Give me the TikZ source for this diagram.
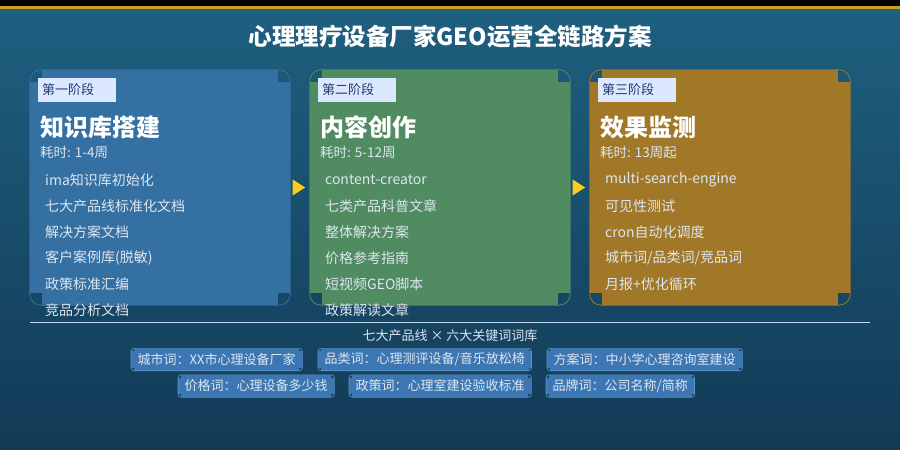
\documentclass[tikz,border=0pt]{standalone}
\usepackage{fontspec}
\setmainfont{Noto Sans CJK SC}
\usetikzlibrary{calc}
\definecolor{bgtop}{RGB}{31,96,128}
\definecolor{bgbot}{RGB}{18,58,86}
\definecolor{ybar}{RGB}{255,208,42}
\definecolor{ybardk}{RGB}{201,160,32}
\definecolor{cardA}{RGB}{52,112,162}
\definecolor{cardB}{RGB}{81,139,98}
\definecolor{cardC}{RGB}{160,120,40}
\definecolor{ctop}{RGB}{28,88,120}
\definecolor{cbot}{RGB}{22,72,102}
\definecolor{tagbg}{RGB}{220,232,255}
\definecolor{tagtxt}{RGB}{31,59,115}
\definecolor{itemtxt}{RGB}{222,230,240}
\definecolor{arrowy}{RGB}{250,205,30}
\definecolor{kwfill}{RGB}{60,119,179}
\definecolor{kwedge}{RGB}{95,150,205}
\definecolor{kwcorner}{RGB}{20,66,95}
\definecolor{linec}{RGB}{190,218,240}
\tikzset{
  cardnode/.style={minimum width=260pt, minimum height=235pt, inner sep=0pt},
  phasetag/.style={fill=tagbg, text=tagtxt, font=\fontsize{13}{15}\selectfont, inner xsep=4pt, inner ysep=0pt, text width=70pt, minimum height=24pt, anchor=west},
  heading/.style={text=white, font=\bfseries\fontsize{24}{28}\selectfont, inner sep=0pt, anchor=west},
  dur/.style={text=itemtxt, font=\fontsize{13.5}{15}\selectfont, inner sep=0pt, anchor=west},
  item/.style={text=itemtxt, font=\fontsize{14}{16}\selectfont, inner sep=0pt, anchor=west},
  kwtag/.style={fill=kwfill, text=itemtxt, font=\fontsize{13}{15}\selectfont, inner xsep=6.5pt, inner ysep=0pt, minimum height=22pt, anchor=west},
  arrowtri/.style={fill=arrowy}
}
\newcommand{\cardbox}[3]{%
  \node[cardnode, fill=#3] (#1) at (#2+130,187.5) {};
  \fill[ctop] (#1.north west) rectangle ++(12,12);
  \fill[ctop] (#1.north east) rectangle ++(-12,12);
  \fill[cbot] (#1.south west) rectangle ++(12,-12);
  \fill[cbot] (#1.south east) rectangle ++(-12,-12);
  \draw[#3, line width=0.8pt, rounded corners=11pt] (#1.north west) rectangle (#1.south east);
}
\newcommand{\kwbox}[4]{%
  \node[kwtag] (#1) at (#2,#3) {#4};
  \fill[kwcorner] (#1.north west) rectangle ++(3,3);
  \fill[kwcorner] (#1.north east) rectangle ++(-3,3);
  \fill[kwcorner] (#1.south west) rectangle ++(3,-3);
  \fill[kwcorner] (#1.south east) rectangle ++(-3,-3);
  \draw[kwedge, line width=0.6pt, rounded corners=3pt] (#1.north west) rectangle (#1.south east);
}
\begin{document}
\begin{tikzpicture}[x=1pt,y=-1pt]
\useasboundingbox (0,0) rectangle (900,450);
\shade[top color=bgtop, bottom color=bgbot] (0,0) rectangle (900,450);
\fill[ybar] (0,0) rectangle (900,5.5);
\fill[ybardk] (0,5.5) rectangle (900,9);
\node[text=white, font=\bfseries\fontsize{23.5}{27}\selectfont] (title) at (450,37) {心理理疗设备厂家GEO运营全链路方案};

% card 1
\cardbox{c1}{30}{cardA}
\node[phasetag] (p1) at (38,90) {第一阶段};
\node[heading] (h1) at (40,127) {知识库搭建};
\node[dur] (d1) at (40,152) {耗时: 1-4周};
\node[item] (a1) at (45,180) {ima知识库初始化};
\node[item] (a2) at (45,206) {七大产品线标准化文档};
\node[item] (a3) at (45,232) {解决方案文档};
\node[item] (a4) at (45,258) {客户案例库(脱敏)};
\node[item] (a5) at (45,284) {政策标准汇编};
\node[item] (a6) at (45,310) {竞品分析文档};

% card 2
\cardbox{c2}{310}{cardB}
\node[phasetag] (p2) at (318,90) {第二阶段};
\node[heading] (h2) at (320,127) {内容创作};
\node[dur] (d2) at (320,152) {耗时: 5-12周};
\node[item] (b1) at (325,180) {content-creator};
\node[item] (b2) at (325,206) {七类产品科普文章};
\node[item] (b3) at (325,232) {整体解决方案};
\node[item] (b4) at (325,258) {价格参考指南};
\node[item] (b5) at (325,284) {短视频GEO脚本};
\node[item] (b6) at (325,310) {政策解读文章};

% card 3
\cardbox{c3}{590}{cardC}
\node[phasetag] (p3) at (598,90) {第三阶段};
\node[heading] (h3) at (600,127) {效果监测};
\node[dur] (d3) at (600,152) {耗时: 13周起};
\node[item] (e1) at (605,180) {multi-search-engine};
\node[item] (e2) at (605,206) {可见性测试};
\node[item] (e3) at (605,232) {cron自动化调度};
\node[item] (e4) at (605,258) {城市词/品类词/竞品词};
\node[item] (e5) at (605,284) {月报+优化循环};

% arrows
\fill[arrowtri] ($(c1.east)+(2.5,-8)$) -- ++(12.5,8) -- ++(-12.5,8) -- cycle;
\fill[arrowtri] ($(c2.east)+(2.5,-8)$) -- ++(12.5,8) -- ++(-12.5,8) -- cycle;

% divider
\coordinate (l1) at (30,322);
\coordinate (l2) at (870,322);
\draw[linec, line width=0.8pt] (l1) -- (l2);
\node[text=itemtxt, font=\fontsize{13}{15}\selectfont] (kwhead) at (450,336) {七大产品线 × 六大关键词词库};

\kwbox{k1}{131}{359.5}{城市词：XX市心理设备厂家}
\kwbox{k2}{318}{359.5}{品类词：心理测评设备/音乐放松椅}
\kwbox{k3}{547}{359.5}{方案词：中小学心理咨询室建设}
\kwbox{k4}{178}{386}{价格词：心理设备多少钱}
\kwbox{k5}{349}{386}{政策词：心理室建设验收标准}
\kwbox{k6}{546}{386}{品牌词：公司名称/简称}
\end{tikzpicture}
\end{document}
